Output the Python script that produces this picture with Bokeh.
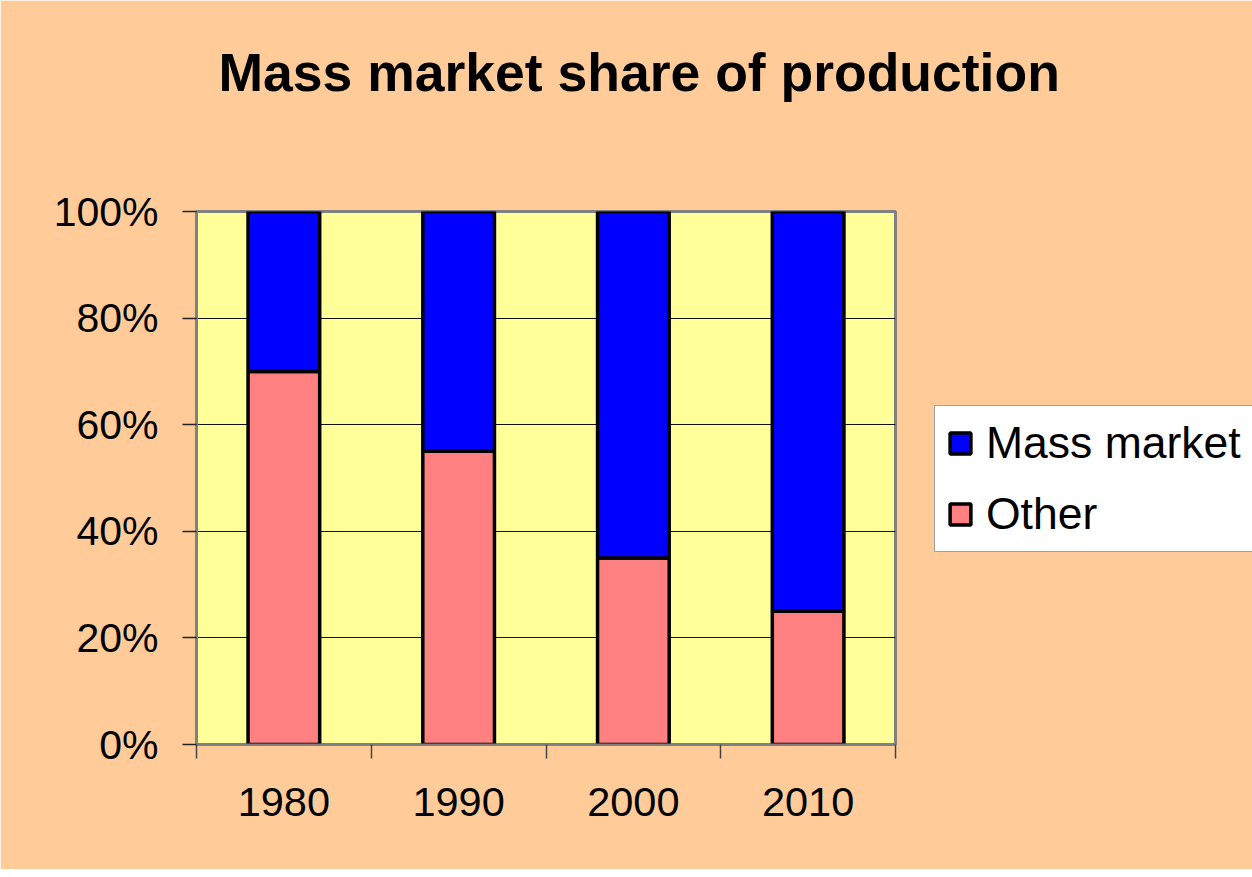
from bokeh.plotting import figure
from bokeh.models import (FixedTicker, NumeralTickFormatter, Legend, LegendItem,
                          ColumnDataSource, Range1d, Title)
from bokeh.embed import file_html
from bokeh.resources import INLINE

# ---- data ----
years = ["1980", "1990", "2000", "2010"]
other = [0.70, 0.55, 0.35, 0.25]
mass_market = [0.30, 0.45, 0.65, 0.75]
y_ticks = [0, 0.2, 0.4, 0.6, 0.8, 1.0]
title_text = "Mass market share of production"

x_pos = [i + 0.5 for i in range(len(years))]
bounds = [float(i) for i in range(len(years) + 1)]
source = ColumnDataSource(dict(x=x_pos, year=years, Other=other, Mass=mass_market))

FONT = "Liberation Sans"

p = figure(frame_width=699, frame_height=533,
           output_backend="svg", toolbar_location=None,
           x_range=Range1d(0, len(years)), y_range=Range1d(0, 1),
           min_border_left=196, min_border_right=349,
           min_border_top=211, min_border_bottom=125)

p.border_fill_color = "#FFCC99"
p.background_fill_color = "#FFFF99"
p.outline_line_color = "#808080"
p.outline_line_width = 3

# real title (outer) + spacer title (closest to the frame)
p.title.text = title_text
p.title.text_font = FONT
p.title.text_font_size = "53.5px"
p.title.text_font_style = "bold"
p.title.text_color = "black"
p.title.align = "left"
p.title.offset = 22
p.title.standoff = 78

spacer = Title(text=" ", text_font=FONT, text_font_size="53.5px", standoff=10)
p.add_layout(spacer, "above")

# bars
r_other, r_mass = p.vbar_stack(["Other", "Mass"], x="x", width=0.41,
                               color=["#FF8080", "#0000FF"],
                               line_color="black", line_width=3.5, source=source)

# axes
xa = p.xaxis[0]
xa.ticker = FixedTicker(ticks=x_pos, minor_ticks=bounds)
xa.major_label_overrides = {xp: yr for xp, yr in zip(x_pos, years)}
xa.major_tick_out = 0
xa.major_tick_in = 0
xa.minor_tick_out = 14
xa.minor_tick_in = 0
xa.minor_tick_line_color = "#444444"
xa.minor_tick_line_width = 1.5
xa.axis_line_color = "#808080"
xa.axis_line_width = 2
xa.major_label_text_font = FONT
xa.major_label_text_font_size = "41.5px"
xa.major_label_text_color = "black"
xa.major_label_standoff = 29

ya = p.yaxis[0]
ya.ticker = FixedTicker(ticks=y_ticks, minor_ticks=[])
ya.formatter = NumeralTickFormatter(format="0%")
ya.major_tick_out = 14
ya.major_tick_in = 0
ya.major_tick_line_color = "#222222"
ya.major_tick_line_width = 1.5
ya.axis_line_color = "#808080"
ya.axis_line_width = 3
ya.major_label_text_font = FONT
ya.major_label_text_font_size = "41px"
ya.major_label_text_color = "black"
ya.major_label_standoff = 24

p.xgrid.grid_line_color = None
p.ygrid.ticker = FixedTicker(ticks=y_ticks)
p.ygrid.grid_line_color = "#111111"
p.ygrid.grid_line_width = 1

# legend (in the right-hand panel)
legend = Legend(items=[LegendItem(label="Mass market", renderers=[r_mass]),
                       LegendItem(label="Other", renderers=[r_other])],
                location=(39, 192))
legend.label_text_font = FONT
legend.label_text_font_size = "44.5px"
legend.label_text_color = "black"
legend.glyph_width = 26
legend.glyph_height = 26
legend.label_standoff = 13
legend.padding = 12
legend.spacing = 21
legend.margin = 0
legend.border_line_color = "#444444"
legend.border_line_width = 1.5
legend.background_fill_color = "white"
legend.background_fill_alpha = 1
p.add_layout(legend, "right")

open("out.html", "w").write(file_html(p, INLINE))
